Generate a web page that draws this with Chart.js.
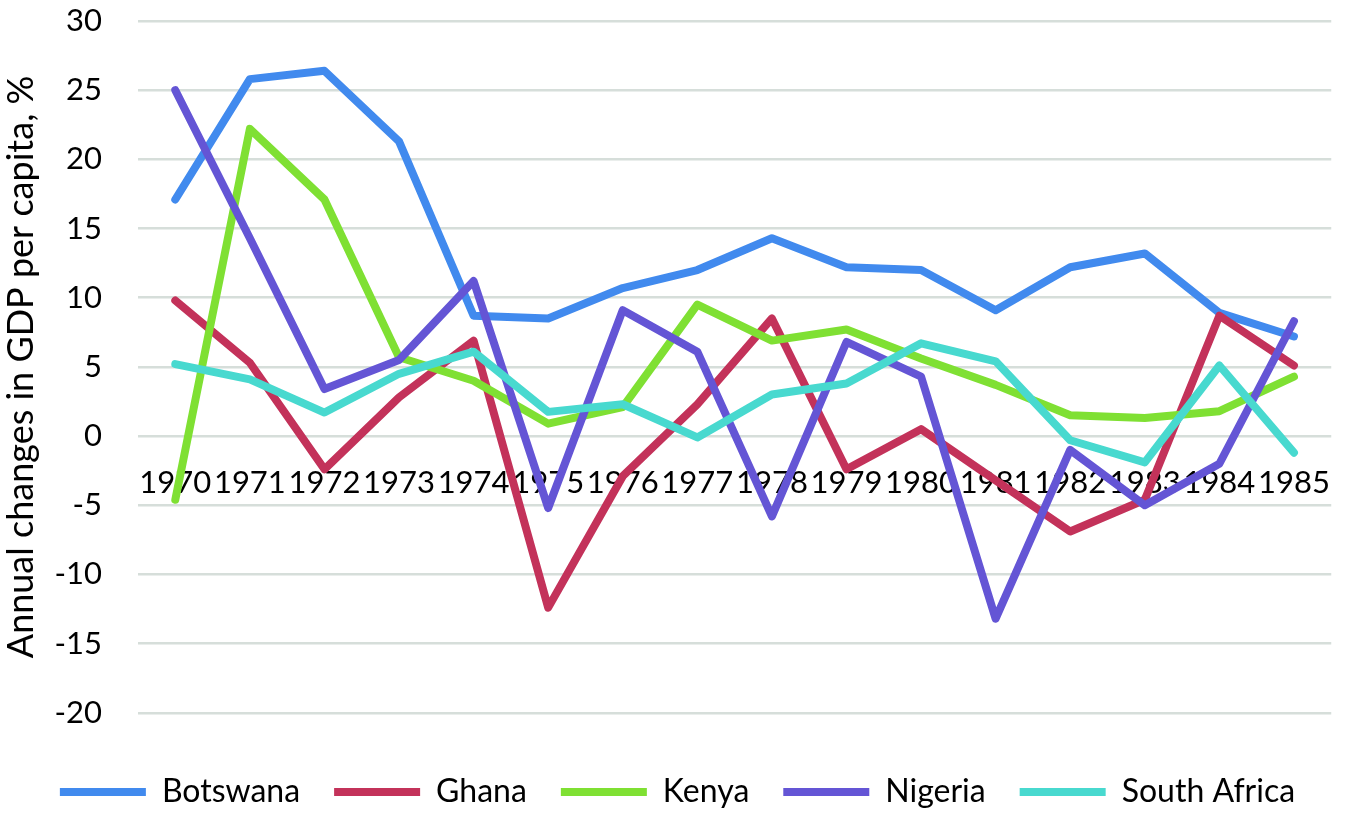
<!DOCTYPE html>
<html>
<head>
<meta charset="utf-8">
<script src="https://cdn.jsdelivr.net/npm/chart.js@4"></script>
<style>
  html, body { margin: 0; padding: 0; background: #fff; }
  #wrap { width: 1358px; height: 813px; }
</style>
</head>
<body>
<div id="wrap"><canvas id="gdpChart"></canvas></div>
<script>
// years along the x axis
const years = ['1970', '1971', '1972', '1973', '1974', '1975', '1976', '1977',
               '1978', '1979', '1980', '1981', '1982', '1983', '1984', '1985'];

// annual change in GDP per capita, %
const botswana    = [17.1, 25.8, 26.4, 21.3, 8.7, 8.5, 10.7, 12.0, 14.3, 12.2, 12.0, 9.1, 12.2, 13.2, 8.9, 7.2];
const ghana       = [9.8, 5.3, -2.4, 2.8, 6.9, -12.4, -2.9, 2.3, 8.5, -2.4, 0.5, -3.2, -6.9, -4.6, 8.7, 5.1];
const kenya       = [-4.6, 22.2, 17.1, 5.7, 4.0, 0.9, 2.1, 9.5, 6.9, 7.7, 5.6, 3.7, 1.5, 1.3, 1.8, 4.3];
const nigeria     = [25.0, 14.3, 3.4, 5.5, 11.2, -5.2, 9.1, 6.1, -5.8, 6.8, 4.3, -13.2, -1.0, -5.0, -2.0, 8.3];
const southAfrica = [5.2, 4.1, 1.7, 4.5, 6.1, 1.75, 2.3, -0.1, 3.0, 3.8, 6.7, 5.4, -0.3, -1.9, 5.1, -1.2];

const yTicks = { min: -20, max: 30, step: 5 };

const seriesNames  = ['Botswana', 'Ghana', 'Kenya', 'Nigeria', 'South Africa'];
const seriesData   = [botswana, ghana, kenya, nigeria, southAfrica];
const seriesColors = ['#418AEE', '#C3325A', '#7FE033', '#6455D5', '#48D9CF'];

const FONT = 'Lato';

const datasets = seriesNames.map((name, i) => ({
    label: name,
    data: seriesData[i],
    borderColor: seriesColors[i],
    backgroundColor: seriesColors[i],
    borderWidth: 8,
    borderCapStyle: 'round',
    borderJoinStyle: 'round',
    pointRadius: 0,
    pointHoverRadius: 0,
    tension: 0,
    // later series drawn on top, like the original
    order: seriesNames.length - i
}));

const ctx = document.getElementById('gdpChart').getContext('2d');
const chart = new Chart(ctx, {
    type: 'line',
    data: { labels: years, datasets: datasets },
    options: {
        responsive: true,
        maintainAspectRatio: false,
        animation: false,
        layout: { padding: { left: 0, right: 3, top: 21, bottom: -5 } },
        plugins: {
            tooltip: { enabled: false },
            legend: {
                position: 'bottom',
                // empty title only used as a spacer above the legend row
                title: { display: true, text: '', padding: { top: 28, bottom: 0 }, font: { size: 1 } },
                labels: {
                    usePointStyle: true,
                    pointStyle: 'line',
                    pointStyleWidth: 86,
                    color: '#000',
                    padding: 34,
                    font: { family: FONT, size: 32 },
                    sort: (a, b) => a.datasetIndex - b.datasetIndex
                }
            }
        },
        scales: {
            x: {
                position: { y: 0 },
                offset: true,
                grid: { display: false, drawTicks: false },
                border: { display: false },
                ticks: {
                    autoSkip: false,
                    maxRotation: 0,
                    minRotation: 0,
                    padding: 28,
                    color: '#000',
                    font: { family: FONT, size: 31 }
                }
            },
            y: {
                min: yTicks.min,
                max: yTicks.max,
                afterFit: (scale) => {
                    scale.width = 138;
                    scale.paddingTop = 0;
                    scale.paddingBottom = 0;
                },
                grid: { color: '#D6DEDA', lineWidth: 2.5, drawTicks: false },
                border: { display: false },
                ticks: {
                    stepSize: yTicks.step,
                    padding: 36,
                    color: '#000',
                    font: { family: FONT, size: 31 }
                },
                title: {
                    display: true,
                    text: 'Annual changes in GDP per capita, %',
                    color: '#000',
                    padding: { top: 0, bottom: 0 },
                    font: { family: FONT, size: 36 }
                }
            }
        }
    }
});
</script>
</body>
</html>
